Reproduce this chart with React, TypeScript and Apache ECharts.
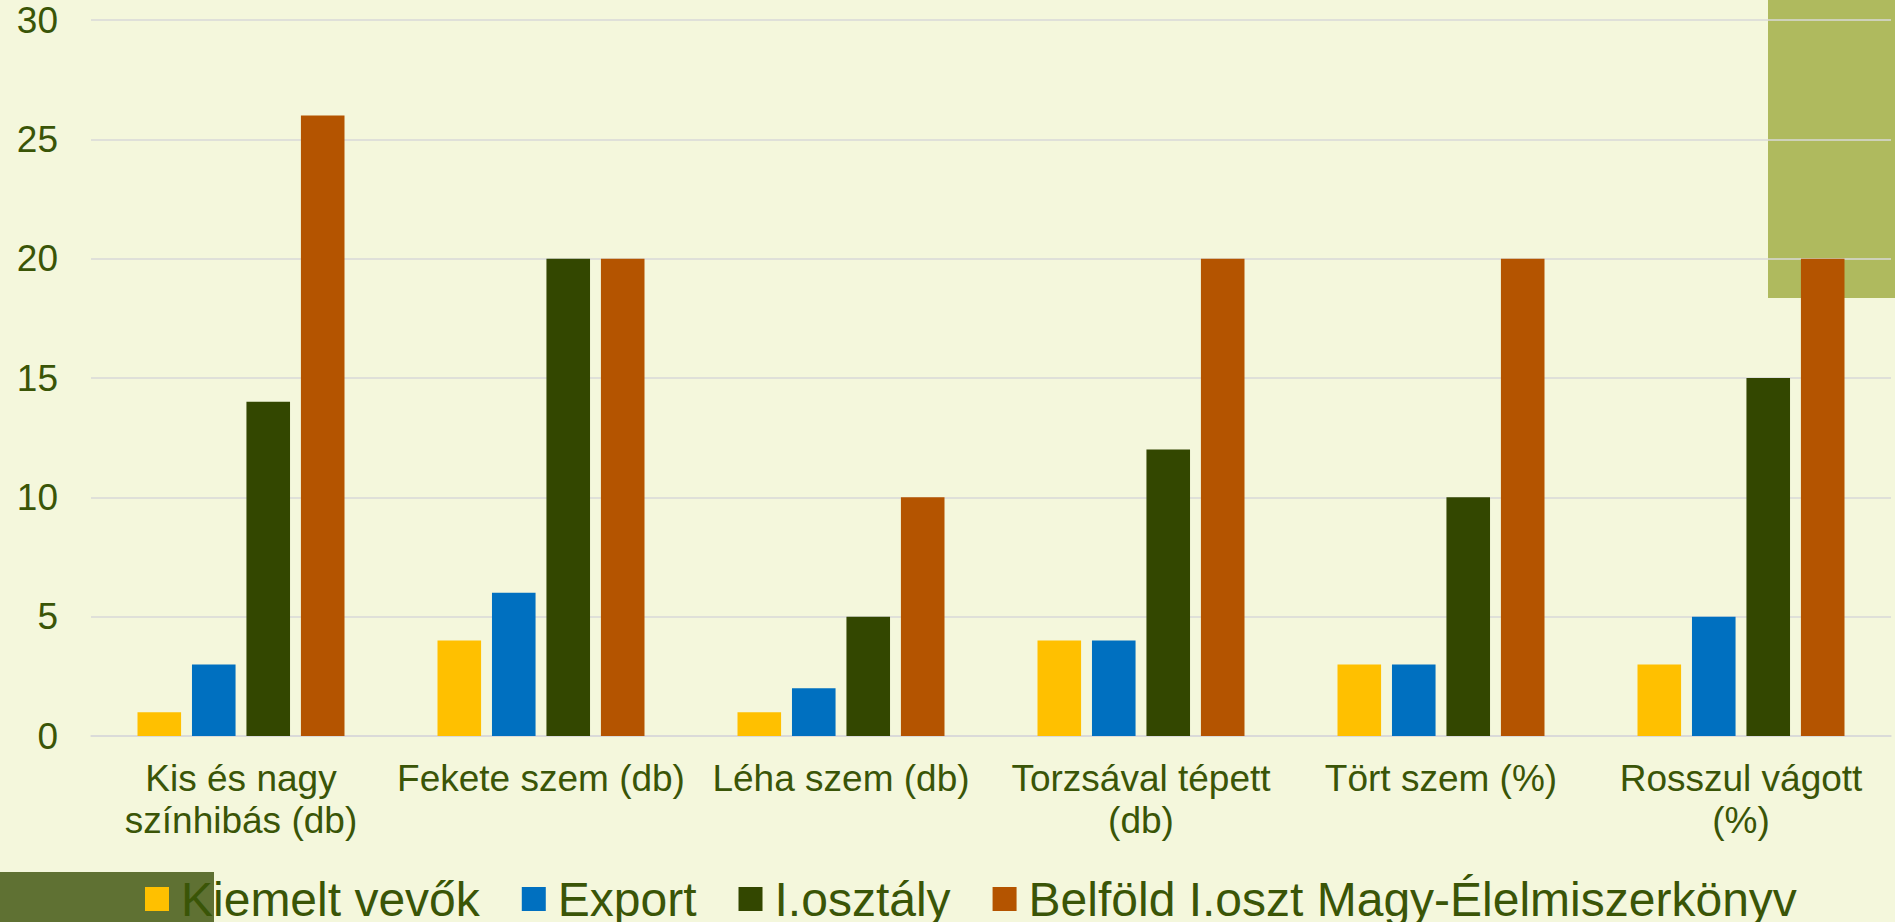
import React, { useEffect, useRef } from "react";
import * as echarts from "echarts";

const categories = [
  "Kis és nagy\nszínhibás (db)",
  "Fekete szem (db)",
  "Léha szem (db)",
  "Torzsával tépett\n(db)",
  "Tört szem (%)",
  "Rosszul vágott\n(%)",
];
const seriesNames = ["Kiemelt vevők", "Export", "I.osztály", "Belföld I.oszt Magy-Élelmiszerkönyv"];
const kiemelt = [1, 4, 1, 4, 3, 3];
const exportVals = [3, 6, 2, 4, 3, 5];
const elsoOsztaly = [14, 20, 5, 12, 10, 15];
const belfold = [26, 20, 10, 20, 20, 20];
const colors = ["#FFC000", "#0070C0", "#334700", "#B45400"];

const TEXT = "#3A5507";
const FONT = "'Liberation Sans', Arial, sans-serif";

export default function App() {
  const ref = useRef<HTMLDivElement>(null);
  useEffect(() => {
    const chart = echarts.init(ref.current!, null, { renderer: "svg" });
    const values = [kiemelt, exportVals, elsoOsztaly, belfold];
    chart.setOption({
      animation: false,
      backgroundColor: "#F4F7DC",
      textStyle: { fontFamily: FONT },
      graphic: [
        { type: "rect", z: -10, shape: { x: 1768, y: 0, width: 127, height: 298 }, style: { fill: "#AFBA5E" } },
        { type: "rect", z: -10, shape: { x: 0, y: 872, width: 214, height: 50 }, style: { fill: "#5F7133" } },
      ],
      grid: { left: 91, right: 4, top: 20, bottom: 186, containLabel: false },
      legend: {
        left: 140,
        top: 870,
        itemWidth: 24,
        itemHeight: 24,
        itemGap: 42,
        icon: "rect",
        textStyle: { fontSize: 48, color: TEXT, lineHeight: 48, padding: [0, 0, 0, 7], fontFamily: FONT },
        data: seriesNames,
      },
      xAxis: {
        type: "category",
        data: categories,
        axisLine: { lineStyle: { color: "#D9D9D9", width: 1.5 } },
        axisTick: { show: false },
        axisLabel: {
          interval: 0,
          color: TEXT,
          fontSize: 37,
          lineHeight: 42,
          margin: 21,
          fontFamily: FONT,
        },
      },
      yAxis: {
        type: "value",
        min: 0,
        max: 30,
        interval: 5,
        axisLine: { show: false },
        axisTick: { show: false },
        splitLine: { lineStyle: { color: "#D9D9D9", width: 1.5 } },
        axisLabel: { color: TEXT, fontSize: 37, margin: 33, fontFamily: FONT },
      },
      series: seriesNames.map((name, i) => ({
        name,
        type: "bar",
        data: values[i],
        barGap: "25%",
        barCategoryGap: "31%",
        itemStyle: { color: colors[i] },
      })),
    });
    return () => chart.dispose();
  }, []);
  return (
    <div
      ref={ref}
      style={{ position: "fixed", left: 0, top: 0, width: 1895, height: 922 }}
    />
  );
}
